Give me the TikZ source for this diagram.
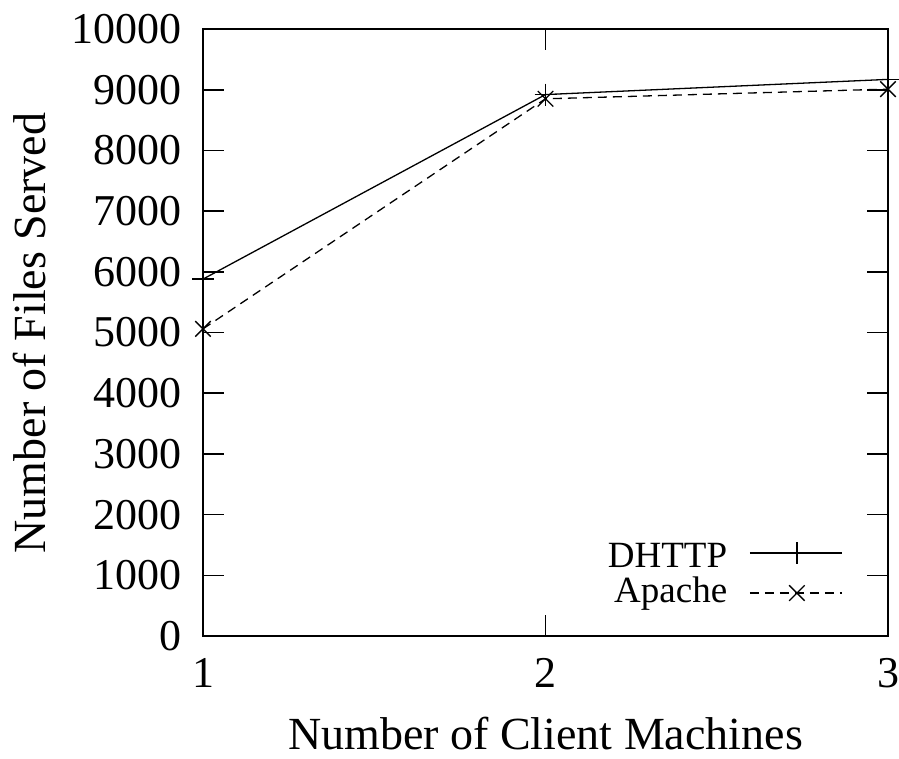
\documentclass[tikz,border=0pt]{standalone}
\usepackage{fontspec}
\setmainfont{Liberation Serif}
\usetikzlibrary{positioning}

\begin{document}
\begin{tikzpicture}[x=342.5pt,y=0.0607pt,font=\fontsize{44}{48}\selectfont,
  frameline/.style={line width=1.6pt},
  dhttp/.style={line width=1.3pt,mark=+,mark size=11pt},
  apache/.style={line width=1.3pt,dash pattern=on 9pt off 6pt,mark=x,mark size=11pt,mark options={solid}},
  keytext/.style={anchor=east,inner sep=0pt,font=\fontsize{37}{40}\selectfont}]
\useasboundingbox (0.4073,-2026) rectangle (3.0321,10478);
% frame + ticks (gnuplot style, inside)
\draw[frameline] (1,0) rectangle (3,10000);
\foreach \yy in {0,1000,...,10000} {
  \draw[frameline] (1,\yy) -- (1.0613,\yy);
  \draw[frameline] (3,\yy) -- (2.9387,\yy);
  \node[anchor=east] (ylab\yy) at (0.947,\yy) {\yy};
}
\foreach \xx in {1,2,3} {
  \draw[frameline] (\xx,0) -- (\xx,346);
  \draw[frameline] (\xx,10000) -- (\xx,9654);
  \node (xlab\xx) at (\xx,-610) {\xx};
}
\node[font=\fontsize{46}{50}\selectfont] (xtitle) at (2,-1600) {Number of Client Machines};
\node[rotate=90,font=\fontsize{46}{50}\selectfont] (ytitle) at (0.4949,4992) {Number of Files Served};
% data
\draw[dhttp] plot coordinates {(1,5880) (2,8920) (3,9170)};
\draw[apache] plot coordinates {(1,5060) (2,8850) (3,9010)};
% key
\node[keytext] (keyd) at (2.531,1320) {DHTTP};
\node[keytext] (keya) at (2.531,700) {Apache};
\draw[dhttp,mark indices={2}] plot coordinates {(2.597,1367) (2.734,1367) (2.866,1367)};
\draw[apache,mark indices={2}] plot coordinates {(2.597,708) (2.734,708) (2.866,708)};
\end{tikzpicture}
\end{document}
